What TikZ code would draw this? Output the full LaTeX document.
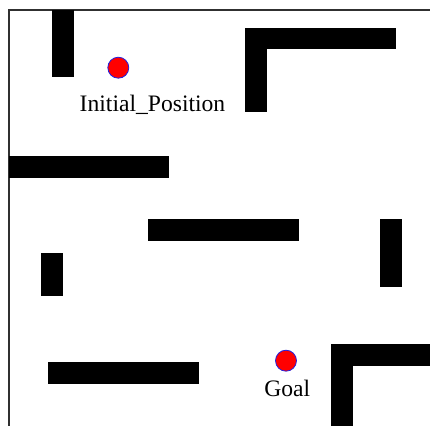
\documentclass[tikz,border=0pt]{standalone}
\usepackage{fontspec}
\setmainfont{Liberation Serif}
\usetikzlibrary{positioning}
\definecolor{ballred}{HTML}{FF0000}
\definecolor{ballrim}{HTML}{2020E0}
\definecolor{framegray}{HTML}{303030}

\begin{document}
\begin{tikzpicture}[x=0.5pt,y=-0.5pt]
\useasboundingbox (0,0) rectangle (430,426);
\draw[framegray,line width=1pt] (9,426)--(9,10)--(430,10);
\foreach \xa/\ya/\xb/\yb in {52/10/74/77,245/28/396/49,245/28/267/112,9/156/169/178,148/219/299/241,380/219/402/287,41/253/63/296,48/362/199/384,331/344/430/366,331/344/353/426}{\fill[black] (\xa,\ya) rectangle (\xb,\yb);}
\node[circle,fill=ballred,draw=ballrim,line width=.4pt,inner sep=0pt,minimum size=10.5pt] (start) at (118.3,67.7) {};
\node[circle,fill=ballred,draw=ballrim,line width=.4pt,inner sep=0pt,minimum size=10.5pt] (goal) at (286,360.7) {};
\node[font=\fontsize{11.8}{14}\selectfont,anchor=base,inner sep=0pt] (startlabel) at (152.5,111.7) {Initial\_Position};
\node[font=\fontsize{11.8}{14}\selectfont,anchor=base,inner sep=0pt] (goallabel) at (287.2,396.7) {Goal};
\end{tikzpicture}
\end{document}
